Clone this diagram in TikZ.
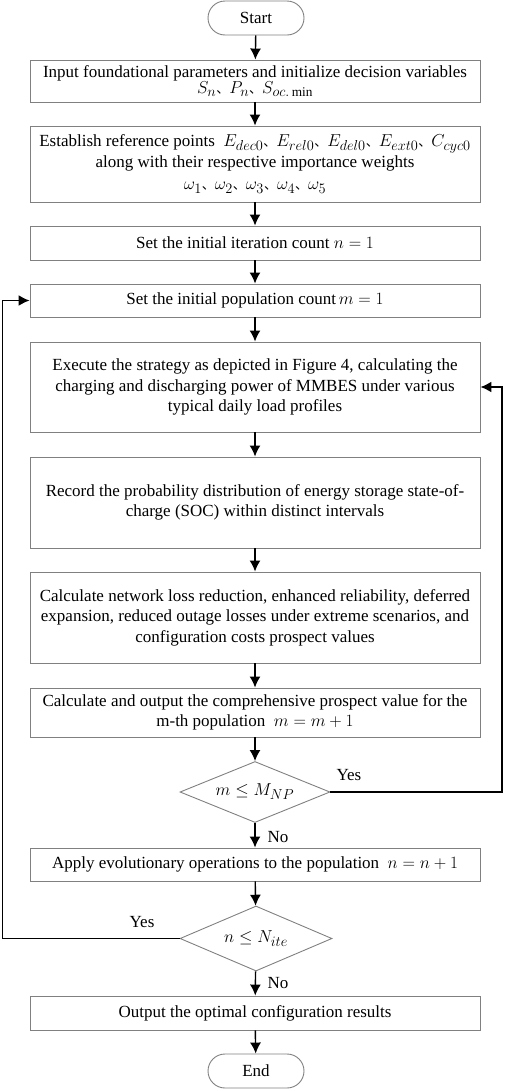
\documentclass[tikz,border=0pt]{standalone}
\usepackage{fontspec}
\setmainfont{Liberation Serif}
\newfontfamily\cjk{Noto Sans CJK SC}
\usetikzlibrary{shapes.geometric,arrows.meta}

\def \boxWidth {450pt}
\def \sep {{\cjk\fontsize{13}{13}\selectfont 、}}
\def \mth #1{{\fontsize{19}{20.5}\selectfont$#1$}}

\begin{document}
\begin{tikzpicture}[x=1pt, y=-1pt,
      every node/.style={font=\fontsize{17}{20.5}\selectfont},
      procBox/.style={draw=gray, line width=0.9pt, minimum width=\boxWidth, align=center, inner sep=2pt},
      terminal/.style={draw=gray, line width=0.9pt, rounded corners=17pt, minimum width=96pt, minimum height=34pt},
      decision/.style={draw=gray, line width=0.9pt, diamond, aspect=2.4, inner sep=0pt},
      flowArrow/.style={-{Latex[length=11pt,width=11pt]}, line width=1.4pt},
      loopLine/.style={-{Latex[length=11pt,width=11pt]}, line width=1.6pt}]
   \useasboundingbox (0,0) rectangle (505,1090);

   \node[terminal] (start) at (256,18) {Start};
   \node[procBox, minimum height=42pt] (input) at (255,81)
      {Input foundational parameters and initialize decision variables\\[-4pt]
       \mth{S_n}\sep\mth{P_n}\sep\mth{S_{oc.\min}}};
   \node[procBox, minimum height=76pt] (refer) at (255,164)
      {Establish reference points \ \mth{E_{dec0}}\sep\mth{E_{rel0}}\sep\mth{E_{del0}}\sep\mth{E_{ext0}}\sep\mth{C_{cyc0}}\\
       along with their respective importance weights\\[2pt]
       \mth{\omega_1}\sep\mth{\omega_2}\sep\mth{\omega_3}\sep\mth{\omega_4}\sep\mth{\omega_5}\hspace{20pt}};
   \node[procBox, minimum height=34pt] (iter) at (255,243) {Set the initial iteration count \mth{n=1}};
   \node[procBox, minimum height=33pt] (pop) at (255,300.5) {Set the initial population count\,\mth{m=1}};
   \node[procBox, minimum height=90pt] (exec) at (255,387)
      {Execute the strategy as depicted in Figure 4, calculating the\\
       charging and discharging power of MMBES under various\\
       typical daily load profiles};
   \node[procBox, minimum height=91pt] (record) at (255,502.5)
      {Record the probability distribution of energy storage state-of-\\
       charge (SOC) within distinct intervals};
   \node[procBox, minimum height=91pt] (calc) at (255,617.5)
      {Calculate network loss reduction, enhanced reliability, deferred\\
       expansion, reduced outage losses under extreme scenarios, and\\
       configuration costs prospect values};
   \node[procBox, minimum height=49pt] (total) at (255,712.5)
      {Calculate and output the comprehensive prospect value for the\\
       m-th population \ \mth{m=m+1}};
   \node[decision, minimum width=150pt, minimum height=61pt] (checkM) at (255,792) {\mth{m\le M_{NP}}};
   \node[procBox, minimum height=33pt] (evolve) at (255,864.5)
      {Apply evolutionary operations to the population \ \mth{n=n+1}};
   \node[decision, minimum width=152pt, minimum height=65pt] (checkN) at (256,938.5) {\mth{n\le N_{ite}}};
   \node[procBox, minimum height=34pt] (output) at (255,1013) {Output the optimal configuration results};
   \node[terminal] (finish) at (256,1071) {End};

   % main flow
   \foreach \from/\to in {start/input, input/refer, refer/iter, iter/pop, pop/exec,
         exec/record, record/calc, calc/total, total/checkM, checkM/evolve,
         evolve/checkN, checkN/output, output/finish}
      \draw[flowArrow] (\from) -- (\to);

   % loops back
   \coordinate (rightTurn) at (502,792);
   \coordinate (leftTurn) at (2.5,938.5);
   \draw[loopLine] (checkM.east) -- (rightTurn) |- (exec.east);
   \draw[loopLine] (checkN.west) -- (leftTurn) |- (pop.west);

   \node[anchor=west] (yesM) at (333,775) {Yes};
   \node[anchor=west] (noM) at (264,837) {No};
   \node (yesN) at (142,922) {Yes};
   \node[anchor=west] (noN) at (264,983) {No};
\end{tikzpicture}
\end{document}
